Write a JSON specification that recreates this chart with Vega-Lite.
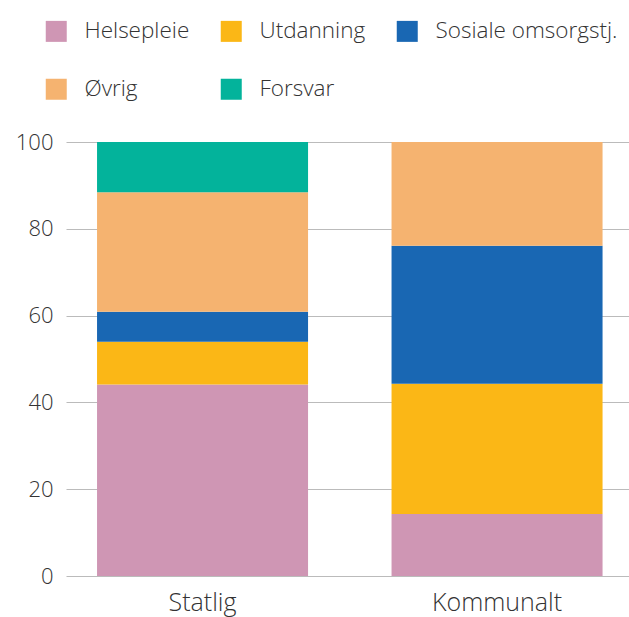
{
  "$schema": "https://vega.github.io/schema/vega-lite/v6.json",
  "autosize": "none",
  "width": 563,
  "height": 434,
  "padding": {"left": 66, "top": 142, "right": 0, "bottom": 41},
  "background": "white",
  "config": {
    "view": {"stroke": null},
    "font": "Open Sans",
    "axis": {"labelFont": "Open Sans", "labelColor": "#333333", "labelFontWeight": 300},
    "legend": {"labelFont": "Open Sans", "labelFontWeight": 300}
  },
  "data": {
    "values": [
      {"sektor": "Statlig", "kategori": "Helsepleie", "rank": 1, "andel": 44.1},
      {"sektor": "Statlig", "kategori": "Utdanning", "rank": 2, "andel": 9.9},
      {"sektor": "Statlig", "kategori": "Sosiale omsorgstj.", "rank": 3, "andel": 6.9},
      {"sektor": "Statlig", "kategori": "Øvrig", "rank": 4, "andel": 27.5},
      {"sektor": "Statlig", "kategori": "Forsvar", "rank": 5, "andel": 11.6},
      {"sektor": "Kommunalt", "kategori": "Helsepleie", "rank": 1, "andel": 14.3},
      {"sektor": "Kommunalt", "kategori": "Utdanning", "rank": 2, "andel": 30.0},
      {"sektor": "Kommunalt", "kategori": "Sosiale omsorgstj.", "rank": 3, "andel": 31.8},
      {"sektor": "Kommunalt", "kategori": "Øvrig", "rank": 4, "andel": 23.9}
    ]
  },
  "mark": {"type": "bar"},
  "encoding": {
    "x": {
      "field": "sektor",
      "type": "nominal",
      "sort": ["Statlig", "Kommunalt"],
      "scale": {"paddingInner": 0.2835, "paddingOuter": 0.0976, "align": 0.54},
      "axis": {
        "title": null,
        "labelAngle": 0,
        "domain": false,
        "ticks": false,
        "labelFontSize": 25,
        "labelPadding": 14
      }
    },
    "y": {
      "field": "andel",
      "type": "quantitative",
      "stack": "zero",
      "scale": {"domain": [0, 100], "nice": false},
      "axis": {
        "title": null,
        "values": [0, 20, 40, 60, 80, 100],
        "domain": false,
        "ticks": false,
        "grid": true,
        "gridColor": "#bbbbbb",
        "gridWidth": 1,
        "labelFontSize": 22,
        "labelPadding": 13
      }
    },
    "order": {"field": "rank", "type": "quantitative"},
    "color": {
      "field": "kategori",
      "type": "nominal",
      "scale": {
        "domain": ["Helsepleie", "Utdanning", "Sosiale omsorgstj.", "Øvrig", "Forsvar"],
        "range": ["#CF96B4", "#FBB716", "#1967B3", "#F5B370", "#03B39B"]
      },
      "legend": {
        "title": null,
        "orient": "none",
        "legendX": -21,
        "legendY": -122,
        "direction": "horizontal",
        "columns": 3,
        "symbolType": "square",
        "symbolSize": 441,
        "symbolStrokeWidth": 0,
        "labelFontSize": 22.5,
        "labelColor": "#333333",
        "labelOffset": 17,
        "labelLimit": 300,
        "columnPadding": 30,
        "rowPadding": 35,
        "padding": 0
      }
    }
  }
}
